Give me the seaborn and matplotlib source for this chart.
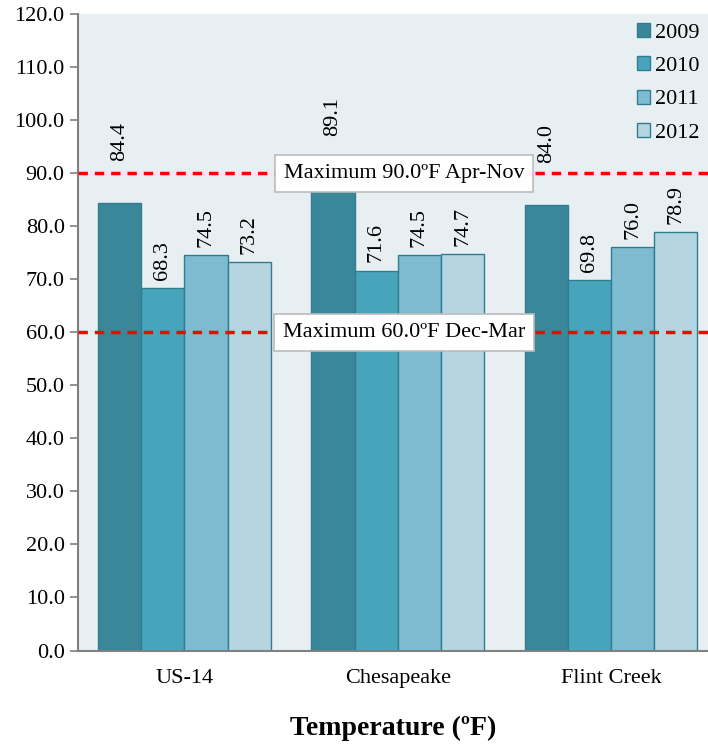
import matplotlib
matplotlib.use('Agg')
import matplotlib.pyplot as plt
import seaborn as sns
import pandas as pd

sites = ['US-14', 'Chesapeake', 'Flint Creek']
years = ['2009', '2010', '2011', '2012']
temp_2009 = [84.4, 89.1, 84.0]
temp_2010 = [68.3, 71.6, 69.8]
temp_2011 = [74.5, 74.5, 76.0]
temp_2012 = [73.2, 74.7, 78.9]
limit_summer = 90.0
limit_winter = 60.0

colors = ['#3a8799', '#48a4bb', '#7fbbd0', '#b5d5e0']

rows = []
for yr, vals in zip(years, [temp_2009, temp_2010, temp_2011, temp_2012]):
    for s, v in zip(sites, vals):
        rows.append({'site': s, 'year': yr, 'temp': v})
df = pd.DataFrame(rows)

sns.set_style('white')
plt.rcParams['font.family'] = ['Liberation Serif', 'DejaVu Serif']
plt.rcParams['text.color'] = 'black'
plt.rcParams['axes.labelcolor'] = 'black'
plt.rcParams['xtick.labelcolor'] = 'black'
plt.rcParams['ytick.labelcolor'] = 'black'

fig = plt.figure(figsize=(7.08, 7.46), dpi=100)
ax = fig.add_axes([0.110, 0.128, 0.890, 0.853])
ax.set_facecolor('#e8eff3')

sns.barplot(data=df, x='site', y='temp', hue='year', palette=colors, saturation=1,
            edgecolor='#2f7d8e', linewidth=1, width=0.81, ax=ax)

# value labels, 2009 ones lifted above the limit box
for i, cont in enumerate(ax.containers):
    for bar in cont:
        h = bar.get_height()
        xc = bar.get_x() + bar.get_width() / 2
        if i == 0:
            ax.text(xc, h + 8, f'{h:.1f}', rotation=90, ha='center', va='bottom', fontsize=16)
        else:
            ax.annotate(f'{h:.1f}', (xc, h), xytext=(0, 6), textcoords='offset points',
                        rotation=90, ha='center', va='bottom', fontsize=16)

for lim, txt in [(limit_summer, 'Maximum 90.0ºF Apr-Nov'), (limit_winter, 'Maximum 60.0ºF Dec-Mar')]:
    ax.axhline(lim, color='#ff0000', linestyle=(0, (2.7, 2)), linewidth=2.5, zorder=3)
    ax.text(1.03, lim, txt, ha='center', va='center', fontsize=16, zorder=4,
            bbox=dict(boxstyle='square,pad=0.4', facecolor='white', edgecolor='#bbbbbb', linewidth=1.2))

ax.set_ylim(0, 120)
ax.set_xlim(-0.5, 2.455)
ax.set_yticks(range(0, 121, 10))
ax.set_yticklabels([f'{v:.1f}' for v in range(0, 121, 10)], fontsize=16)
ax.tick_params(axis='y', length=6, color='#808080', width=1.2, left=True)
ax.tick_params(axis='x', length=0, labelsize=16, pad=13)
ax.set_ylabel('')
ax.set_xlabel('Temperature (ºF)', fontsize=20, fontweight='bold', labelpad=20)

for side in ['top', 'right']:
    ax.spines[side].set_visible(False)
for side in ['left', 'bottom']:
    ax.spines[side].set_color('#808080')
    ax.spines[side].set_linewidth(1.5)

ax.legend(loc='upper right', frameon=False, fontsize=16, handlelength=0.6, handleheight=0.6,
          handletextpad=0.2, labelspacing=0.6, borderaxespad=0.0)

fig.savefig('out.png', dpi=100)
